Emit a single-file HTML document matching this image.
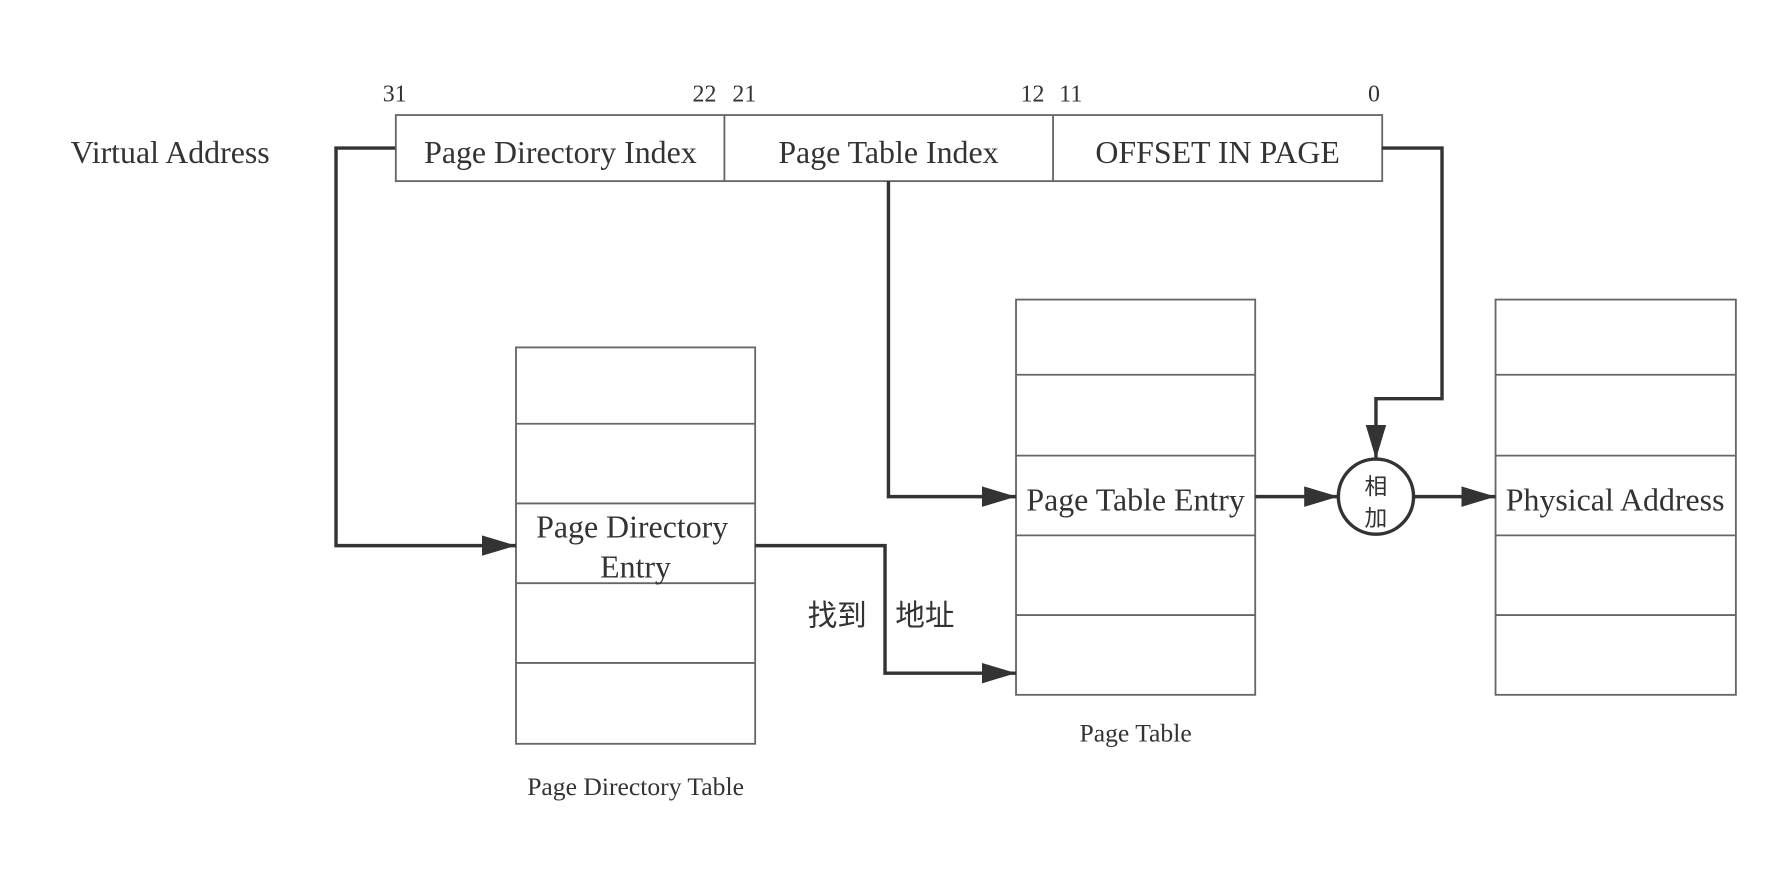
<!DOCTYPE html>
<html><head><meta charset="utf-8"><style>html,body{margin:0;padding:0;background:#fff}svg{display:block}</style></head>
<body>
<svg width="1786" height="874" viewBox="0 0 1568 767.3" xmlns="http://www.w3.org/2000/svg" font-family="Liberation Serif, Noto Serif CJK SC, serif" fill="#333">
<defs><marker id="a" markerWidth="30" markerHeight="18" refX="30" refY="9" orient="auto" markerUnits="userSpaceOnUse"><path d="M0,0 L30,9 L0,18 Z" fill="#333"/></marker></defs>
<g fill="none" stroke="#666" stroke-width="1.6">
<rect x="347.5" y="101" width="866" height="58"/>
<line x1="636" y1="101" x2="636" y2="159"/><line x1="924.5" y1="101" x2="924.5" y2="159"/>
<rect x="453" y="305" width="210" height="348"/>
<line x1="453" y1="372" x2="663" y2="372"/><line x1="453" y1="442" x2="663" y2="442"/><line x1="453" y1="512" x2="663" y2="512"/><line x1="453" y1="582" x2="663" y2="582"/>
<rect x="892" y="263" width="210" height="347"/>
<line x1="892" y1="329" x2="1102" y2="329"/><line x1="892" y1="400" x2="1102" y2="400"/><line x1="892" y1="470" x2="1102" y2="470"/><line x1="892" y1="540" x2="1102" y2="540"/>
<rect x="1313" y="263" width="211" height="347"/>
<line x1="1313" y1="329" x2="1524" y2="329"/><line x1="1313" y1="400" x2="1524" y2="400"/><line x1="1313" y1="470" x2="1524" y2="470"/><line x1="1313" y1="540" x2="1524" y2="540"/>
</g>
<g fill="none" stroke="#333" stroke-width="3">
<polyline points="347,130 295,130 295,479 453,479" marker-end="url(#a)"/>
<polyline points="780,159 780,436 892,436" marker-end="url(#a)"/>
<polyline points="663,479 777,479 777,591 892,591" marker-end="url(#a)"/>
<polyline points="1213,130 1266,130 1266,350 1208,350 1208,403" marker-end="url(#a)"/>
<line x1="1102" y1="436" x2="1175" y2="436" marker-end="url(#a)"/>
<line x1="1241" y1="436" x2="1313" y2="436" marker-end="url(#a)"/>
<circle cx="1208" cy="436" r="33" fill="#fff"/>
</g>
<g font-size="21">
<text x="336" y="89">31</text><text x="608" y="89">22</text><text x="643" y="89">21</text>
<text x="896" y="89">12</text><text x="930" y="89">11</text><text x="1201" y="89">0</text>
</g>
<g font-size="22.5">
<text x="558" y="698" text-anchor="middle">Page Directory Table</text>
<text x="997" y="651" text-anchor="middle">Page Table</text>
</g>
<g font-size="28">
<text x="62" y="143">Virtual Address</text>
<text x="492" y="143" text-anchor="middle">Page Directory Index</text>
<text x="780" y="143" text-anchor="middle">Page Table Index</text>
<text x="1069" y="143" text-anchor="middle">OFFSET IN PAGE</text>
<text x="555" y="472" text-anchor="middle">Page Directory</text>
<text x="558" y="507" text-anchor="middle">Entry</text>
<text x="997" y="448" text-anchor="middle">Page Table Entry</text>
<text x="1418" y="448" text-anchor="middle">Physical Address</text>
<text x="709" y="549" font-family="Liberation Sans, Noto Sans CJK SC, sans-serif" font-size="26">找到</text>
<text x="786" y="549" font-family="Liberation Sans, Noto Sans CJK SC, sans-serif" font-size="26">地址</text>
</g>
<g font-size="20" font-family="Liberation Sans, Noto Sans CJK SC, sans-serif" text-anchor="middle">
<text x="1208" y="434">相</text><text x="1208" y="462">加</text>
</g>
</svg>
</body></html>
